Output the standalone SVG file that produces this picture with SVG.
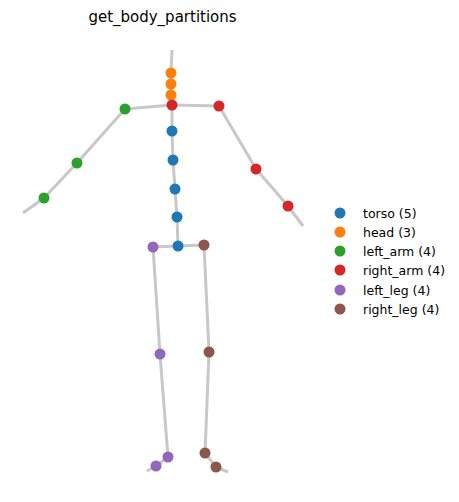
<svg xmlns="http://www.w3.org/2000/svg" width="459" height="502" viewBox="0 0 459 502">
<style>
.bone{fill:none;stroke:#c8c8c8;stroke-width:3;stroke-linecap:butt;stroke-linejoin:round}
.t{font-family:"DejaVu Sans",sans-serif;font-size:12.5px;fill:#000}
.title{font-family:"DejaVu Sans",sans-serif;font-size:15px;fill:#000;text-anchor:middle}
.torso{fill:#1f77b4}.head{fill:#ff7f0e}.larm{fill:#2ca02c}.rarm{fill:#d62728}.lleg{fill:#9467bd}.rleg{fill:#8c564b}
</style>
<rect width="459" height="502" fill="#fff"/>
<text class="title" x="162.5" y="22">get_body_partitions</text>
<g id="connectors">
<polyline class="bone" points="172,50 171,73 171,84 171,95 172,105"/>
<polyline class="bone" points="172,105 172,131 173,160 175,189 177,217 178,246"/>
<polyline class="bone" points="172,105 125,109 77,163 44,198 23,213"/>
<polyline class="bone" points="172,105 219,106 256,169 288,206 303,226"/>
<polyline class="bone" points="178,246 153,247 160,354 168,457 156,466 147,471"/>
<polyline class="bone" points="178,246 204,245 209,352 205,453 216,467 228,472"/>
</g>
<g id="head" class="head">
<circle cx="171" cy="73" r="5.5"/><circle cx="171" cy="84" r="5.5"/><circle cx="171" cy="95" r="5.5"/>
</g>
<g id="left_arm" class="larm">
<circle cx="125" cy="109" r="5.5"/><circle cx="77" cy="163" r="5.5"/><circle cx="44" cy="198" r="5.5"/>
</g>
<g id="right_arm" class="rarm">
<circle cx="219" cy="106" r="5.5"/><circle cx="256" cy="169" r="5.5"/><circle cx="288" cy="206" r="5.5"/>
</g>
<g id="torso" class="torso">
<circle cx="172" cy="131" r="5.5"/><circle cx="173" cy="160" r="5.5"/><circle cx="175" cy="189" r="5.5"/><circle cx="177" cy="217" r="5.5"/><circle cx="178" cy="246" r="5.5"/>
</g>
<g id="neck" class="rarm"><circle cx="172" cy="105" r="5.5"/></g>
<g id="left_leg" class="lleg">
<circle cx="153" cy="247" r="5.5"/><circle cx="160" cy="354" r="5.5"/><circle cx="168" cy="457" r="5.5"/><circle cx="156" cy="466" r="5.5"/>
</g>
<g id="right_leg" class="rleg">
<circle cx="204" cy="245" r="5.5"/><circle cx="209" cy="352" r="5.5"/><circle cx="205" cy="453" r="5.5"/><circle cx="216" cy="467" r="5.5"/>
</g>
<g id="legend">
<circle class="torso" cx="340" cy="213" r="5.5"/><text class="t" x="363" y="217.5">torso (5)</text>
<circle class="head" cx="340" cy="232" r="5.5"/><text class="t" x="363" y="236.5">head (3)</text>
<circle class="larm" cx="340" cy="251" r="5.5"/><text class="t" x="363" y="255.5">left_arm (4)</text>
<circle class="rarm" cx="340" cy="270" r="5.5"/><text class="t" x="363" y="274.5">right_arm (4)</text>
<circle class="lleg" cx="340" cy="290" r="5.5"/><text class="t" x="363" y="294.5">left_leg (4)</text>
<circle class="rleg" cx="340" cy="309" r="5.5"/><text class="t" x="363" y="313.5">right_leg (4)</text>
</g>
</svg>
